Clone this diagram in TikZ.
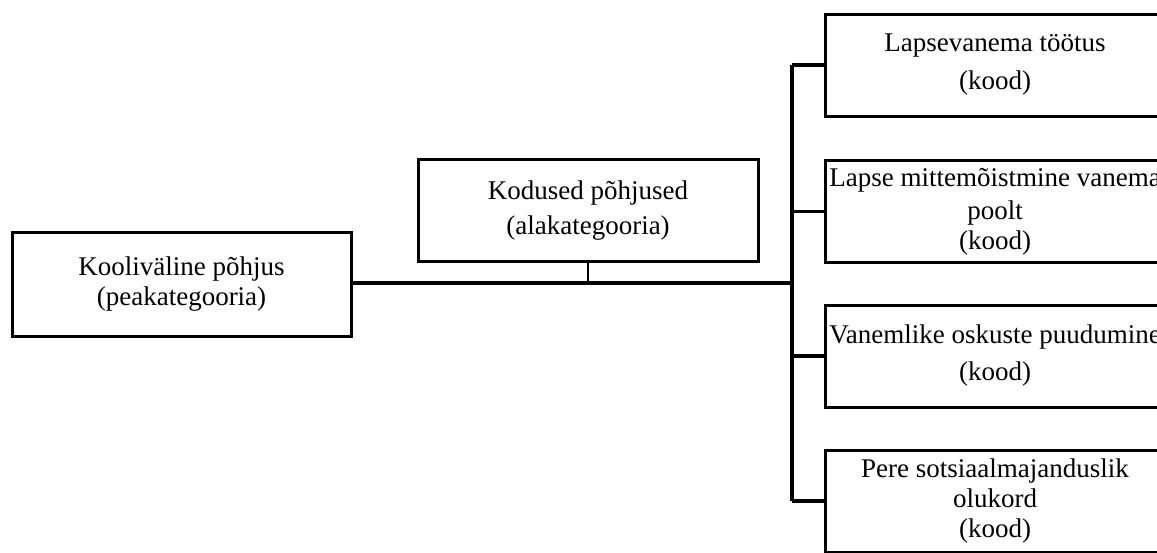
\documentclass[tikz,border=0pt]{standalone}
\usepackage{fontspec}
\setmainfont{Liberation Serif}
\begin{document}
\begin{tikzpicture}[x=1pt,y=-1pt,
  box/.style={draw, line width=3pt, rectangle, minimum width=340pt, minimum height=102pt, inner sep=0pt, align=center, font=\fontsize{27}{30}\selectfont},
  conn/.style={line width=3.2pt}]
\useasboundingbox (0,0) rectangle (1157,552);
\clip (0,0) rectangle (1157,552);
\node[box, minimum width=339pt, minimum height=104pt] (main) at (181.5,284) {Kooliväline põhjus\\(peakategooria)};
\node[box] (sub) at (588,210.5) {Kodused põhjused\\[5pt](alakategooria)};
\node[box] (k1) at (995,65) {Lapsevanema töötus\\[8pt](kood)};
\node[box] (k2) at (995,211.5) {Lapse mittemõistmine vanema\\[3pt]poolt\\(kood)};
\node[box] (k3) at (995,356) {Vanemlike oskuste puudumine\\[7pt](kood)};
\node[box] (k4) at (995,501) {Pere sotsiaalmajanduslik\\olukord\\(kood)};
\coordinate (j) at (588,283);
\coordinate (t) at (792,283);
\draw[conn] (main.east |- j) -- (t);
\draw[line width=2.4pt] (sub.south) -- (j);
\draw[conn] (t |- k1.west) -- (t |- k4.west);
\draw[conn] (t |- k1.west) -- (k1.west);
\draw[conn] (t |- k2.west) -- (k2.west);
\draw[conn] (t |- k3.west) -- (k3.west);
\draw[conn] (t |- k4.west) -- (k4.west);
\end{tikzpicture}
\end{document}
